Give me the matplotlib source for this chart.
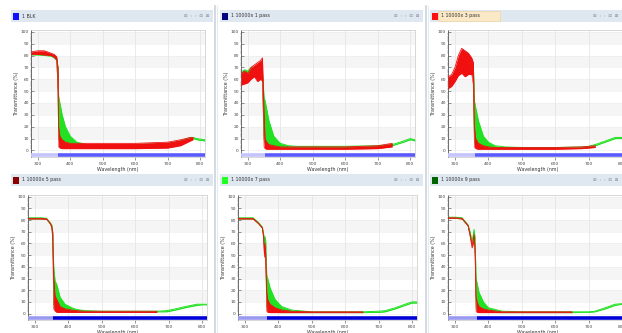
import numpy as np
import matplotlib
matplotlib.use("Agg")
import matplotlib.pyplot as plt
from matplotlib.patches import Rectangle

nan = np.nan

# ---------------- data ----------------
titles = ["1 BLK", "1 10000x 1 pass", "1 10000x 3 pass",
          "1 10000x 5 pass", "1 10000x 7 pass", "1 10000x 9 pass"]
square_colors = ["#1010ff", "#000080", "#ff1010", "#8b0000", "#22ff22", "#006400"]
x_ticks = [300, 400, 500, 600, 700, 800]
y_ticks = [0, 10, 20, 30, 40, 50, 60, 70, 80, 90, 100]
x_label = "Wavelength (nm)"
y_label = "Transmittance (%)"

p1_x        = [279, 300, 320, 340, 350, 358, 362, 364, 368, 375, 385, 400, 420, 450, 500, 600, 700, 740, 770, 778, 790, 815]
p1_green_hi = [82, 82, 81.5, 81, 80, 78, 70, 46, 40, 30, 20, 12, 7, 5, 5, 5, 6, 8, 11, 11, 10, 9]
p1_green_lo = [80.5, 80.5, 80, 79.5, 78, 76, 55, 10, 5, 4, 3.5, 3, 3, 3, 3, 3, 4, 6, 9, 10, 9, 8]
p1_red_hi   = [83, 84, 84, 82, 81, 79, 70, 20, 12, 9, 7, 6, 6, 6, 6, 6, 7, 9, 11, 11, nan, nan]
p1_red_lo   = [81, 81, 80.5, 80, 78.5, 76, 50, 3, 2, 1.5, 1.5, 1.5, 1.5, 1.5, 1.5, 1.5, 2, 4, 8, 9, nan, nan]

p2_x        = [279, 290, 300, 310, 320, 330, 340, 345, 350, 353, 358, 365, 380, 400, 425, 450, 500, 600, 700, 745, 780, 800, 815]
p2_green_hi = [66, 68, 67, 70, 69, 66, 67, 66, 45, 42, 35, 25, 12, 6, 4, 3.5, 3.5, 3.5, 4, 5, 8, 10, 9]
p2_green_lo = [62, 63, 62, 66, 64, 62, 62, 60, 10, 6, 4, 3, 2.5, 2.5, 2.5, 2.5, 2.5, 2.5, 3, 4, 7, 9, 8]
p2_red_hi   = [65, 67, 65, 70, 72, 74, 76, 78, 30, 10, 7, 5, 4, 3, 3, 3, 3, 3, 4, 6, nan, nan, nan]
p2_red_lo   = [55, 56, 57, 60, 62, 58, 60, 58, 3, 1.5, 1, 1, 1, 1, 1, 1, 1, 1, 1.5, 3, nan, nan, nan]

p3_x        = [279, 290, 300, 310, 320, 330, 340, 350, 355, 358, 362, 370, 385, 400, 420, 450, 500, 600, 680, 700, 720, 750, 780, 800, 815]
p3_green_hi = [60, 62, 66, 72, 74, 72, 75, 74, 72, 42, 36, 25, 12, 7, 4, 3, 2.5, 2.5, 3, 3.5, 5, 8, 11, 11, 10]
p3_green_lo = [56, 58, 62, 66, 68, 64, 68, 68, 60, 8, 4, 3, 2, 1.5, 1.5, 1.5, 1.5, 1.5, 2, 2.5, 4, 7, 10, 10, 9]
p3_red_hi   = [62, 64, 70, 80, 86, 84, 82, 78, 74, 20, 10, 6, 4, 3, 2.5, 2.5, 2.5, 2.5, 3, 3.5, 4, nan, nan, nan, nan]
p3_red_lo   = [52, 54, 58, 63, 65, 62, 64, 64, 55, 3, 1.5, 1, 1, 1, 1, 1, 1, 1, 1.5, 2, 2.5, nan, nan, nan, nan]

p4_x        = [279, 300, 320, 335, 345, 350, 353, 356, 360, 365, 375, 390, 410, 425, 450, 500, 600, 665, 695, 720, 750, 785, 800, 815]
p4_green_hi = [82, 82, 82, 81.5, 78, 76, 70, 40, 28, 25, 14, 8, 5, 3.5, 2.5, 2, 2, 2, 2.5, 4, 6, 8, 8, 8]
p4_green_lo = [81, 81, 81, 80.5, 77, 74, 66, 8, 4, 3, 2, 1.5, 1.5, 1.5, 1.5, 1.5, 1.5, 1.5, 1.5, 3, 5, 7, 7.5, 7.5]
p4_red_hi   = [81.5, 81.5, 81.5, 81, 77.5, 75, 69, 30, 15, 12, 6, 4, 3, 2.5, 2, 2, 2, 2, nan, nan, nan, nan, nan, nan]
p4_red_lo   = [81, 81, 81, 80.5, 77, 74, 62, 4, 2, 1, 1, 1, 1, 1, 1, 1, 1, 1, nan, nan, nan, nan, nan, nan]

p5_x        = [279, 300, 324, 340, 352, 356, 358, 360, 362, 365, 368, 375, 390, 410, 440, 500, 600, 653, 700, 720, 750, 779, 800, 815]
p5_green_hi = [82, 82, 82, 78, 74, 68, 58, 66, 62, 33, 30, 22, 12, 6, 3, 1.5, 1.5, 1.5, 2, 2.5, 5, 8, 10, 10]
p5_green_lo = [81, 81, 81, 77, 73, 66, 54, 62, 55, 6, 3, 1.5, 1, 0.8, 0.8, 0.8, 0.8, 0.8, 1, 1.5, 4, 7, 9, 9]
p5_red_hi   = [81.5, 81.5, 81.5, 77.5, 73.5, 65, 52, 60, 50, 18, 12, 8, 5, 3, 2, 1.5, 1.5, 1.5, nan, nan, nan, nan, nan, nan]
p5_red_lo   = [81, 81, 81, 77, 73, 63, 48, 56, 42, 2, 1, 0.8, 0.8, 0.8, 0.8, 0.8, 0.8, 0.8, nan, nan, nan, nan, nan, nan]

p6_x        = [279, 300, 321, 339, 345, 351, 355, 357, 360, 363, 366, 372, 385, 400, 441, 500, 600, 650, 700, 719, 750, 779, 800, 815]
p6_green_hi = [82.5, 82.5, 82, 76, 70, 62, 68, 72, 65, 30, 26, 18, 10, 5, 2, 1.5, 1.5, 1.5, 1.5, 2, 5, 8, 8.5, 9]
p6_green_lo = [81.5, 81.5, 81, 75, 68, 60, 64, 70, 58, 5, 3, 2, 1, 1, 0.8, 0.8, 0.8, 0.8, 1, 1.5, 4, 7, 8, 8]
p6_red_hi   = [82, 82, 81.5, 75.5, 68, 58, 64, 68, 55, 15, 10, 6, 4, 3, 1.5, 1.5, 1.5, 1.5, nan, nan, nan, nan, nan, nan]
p6_red_lo   = [81.5, 81.5, 81, 75, 66, 56, 60, 65, 50, 2, 1, 0.8, 0.8, 0.8, 0.8, 0.8, 0.8, 0.8, nan, nan, nan, nan, nan, nan]

bar_split = [362, 353, 360, 355, 365, 365]
bar_level = -3.5

panels = [
    (p1_x, p1_green_hi, p1_green_lo, p1_red_hi, p1_red_lo),
    (p2_x, p2_green_hi, p2_green_lo, p2_red_hi, p2_red_lo),
    (p3_x, p3_green_hi, p3_green_lo, p3_red_hi, p3_red_lo),
    (p4_x, p4_green_hi, p4_green_lo, p4_red_hi, p4_red_lo),
    (p5_x, p5_green_hi, p5_green_lo, p5_red_hi, p5_red_lo),
    (p6_x, p6_green_hi, p6_green_lo, p6_red_hi, p6_red_lo),
]

# ---------------- layout (pixels) ----------------
W, H = 622, 333
fig = plt.figure(figsize=(W / 100, H / 100), dpi=100)
fig.patch.set_facecolor("white")

def rect(l, t, r, b):
    return [l / W, 1 - b / H, (r - l) / W, (b - t) / H]

axes_px = [(31, 30, 205, 157), (241, 30, 415, 157), (448, 30, 627, 157),
           (28, 195, 207, 320), (238, 195, 417, 320), (448, 195, 627, 320)]
header_px = [(11, 10, 213, 22), (220, 10, 423, 22), (430, 10, 622, 22),
             (11, 174, 213, 186), (220, 174, 423, 186), (430, 174, 622, 186)]

# overlay axes for decorations in pixel coords
deco = fig.add_axes([0, 0, 1, 1])
deco.set_xlim(0, W)
deco.set_ylim(H, 0)
deco.axis("off")
deco.set_zorder(-1)
for sx in [215, 426]:
    deco.plot([sx, sx], [6, H], color="#c9d3df", lw=1.2)
    deco.plot([sx + 2, sx + 2], [6, H], color="#e6ebf1", lw=0.8)

for i, (l, t, r, b) in enumerate(header_px):
    deco.add_patch(Rectangle((l, t), r - l, b - t, facecolor="#dfe7f1", edgecolor="none"))
    if i == 2:
        deco.add_patch(Rectangle((l + 8, t + 1), 62, b - t - 2, facecolor="#fbe8c6",
                                 edgecolor="#f0d090", lw=0.4))
    deco.add_patch(Rectangle((l + 2, t + 2.5), 6, 7, facecolor=square_colors[i], edgecolor="none"))
    deco.text(l + 11, (t + b) / 2, titles[i], fontsize=3.4, va="center", ha="left", color="#333333")
    deco.text(r - 4, (t + b) / 2, "\u229e  \u2039  \u203a  \u229f  \u22a0", fontsize=3.2,
              va="center", ha="right", color="#8a94a0")

green_c = "#22e022"
red_c = "#f01010"

for i, (x, ghi, glo, rhi, rlo) in enumerate(panels):
    ax = fig.add_axes(rect(*axes_px[i]))
    ax.set_xlim(279, 815)
    ax.set_ylim(-5.5, 101.5)
    ax.set_facecolor("white")
    for k in range(0, 100, 20):
        ax.axhspan(k + 10, k + 20, color="#f5f5f5", zorder=0, lw=0)
    for xt in x_ticks:
        ax.axvline(xt, color="#e2e2e2", lw=0.5, zorder=0.5)
    for yt in y_ticks:
        ax.axhline(yt, color="#ececec", lw=0.4, zorder=0.5)

    x = np.array(x, dtype=float)
    ghi = np.array(ghi, dtype=float); glo = np.array(glo, dtype=float)
    rhi = np.array(rhi, dtype=float); rlo = np.array(rlo, dtype=float)
    ax.fill_between(x, glo, ghi, color=green_c, lw=0, zorder=2)
    ax.plot(x, ghi, color=green_c, lw=0.7, zorder=2)
    ax.plot(x, glo, color=green_c, lw=0.5, zorder=2)
    ax.fill_between(x, rlo, rhi, where=~np.isnan(rhi), color=red_c, lw=0, zorder=3)
    ax.plot(x, rhi, color=red_c, lw=0.6, zorder=3)
    ax.plot(x, rlo, color=red_c, lw=0.4, zorder=3)

    light = "#c4c4ff" if i < 3 else "#9a9af0"
    dark = "#5a5aff" if i < 3 else "#0000d8"
    ax.plot([279, bar_split[i]], [bar_level, bar_level], color=light, lw=2.6,
            solid_capstyle="butt", zorder=4)
    ax.plot([bar_split[i], 815], [bar_level, bar_level], color=dark, lw=2.6,
            solid_capstyle="butt", zorder=4)

    ax.set_xticks(x_ticks)
    ax.set_xticklabels([str(v) for v in x_ticks])
    ax.set_yticks(y_ticks)
    ax.set_yticklabels([str(v) for v in y_ticks])
    ax.set_yticks(np.arange(0, 101, 2), minor=True)
    ax.tick_params(axis="both", labelsize=3.2, colors="#444444", length=2, width=0.4, pad=1.5)
    ax.tick_params(axis="y", which="minor", length=1, width=0.3, colors="#666666")
    ax.tick_params(axis="y", direction="in")
    ax.set_xlabel(x_label, fontsize=3.4, color="#333333", labelpad=0.5)
    ax.set_ylabel(y_label, fontsize=3.4, color="#333333", labelpad=1.5)
    for s in ["top", "right", "bottom"]:
        ax.spines[s].set_color("#c8c8c8")
        ax.spines[s].set_linewidth(0.5)
    ax.spines["left"].set_color("#555555")
    ax.spines["left"].set_linewidth(0.6)

fig.savefig("out.png", dpi=100)
